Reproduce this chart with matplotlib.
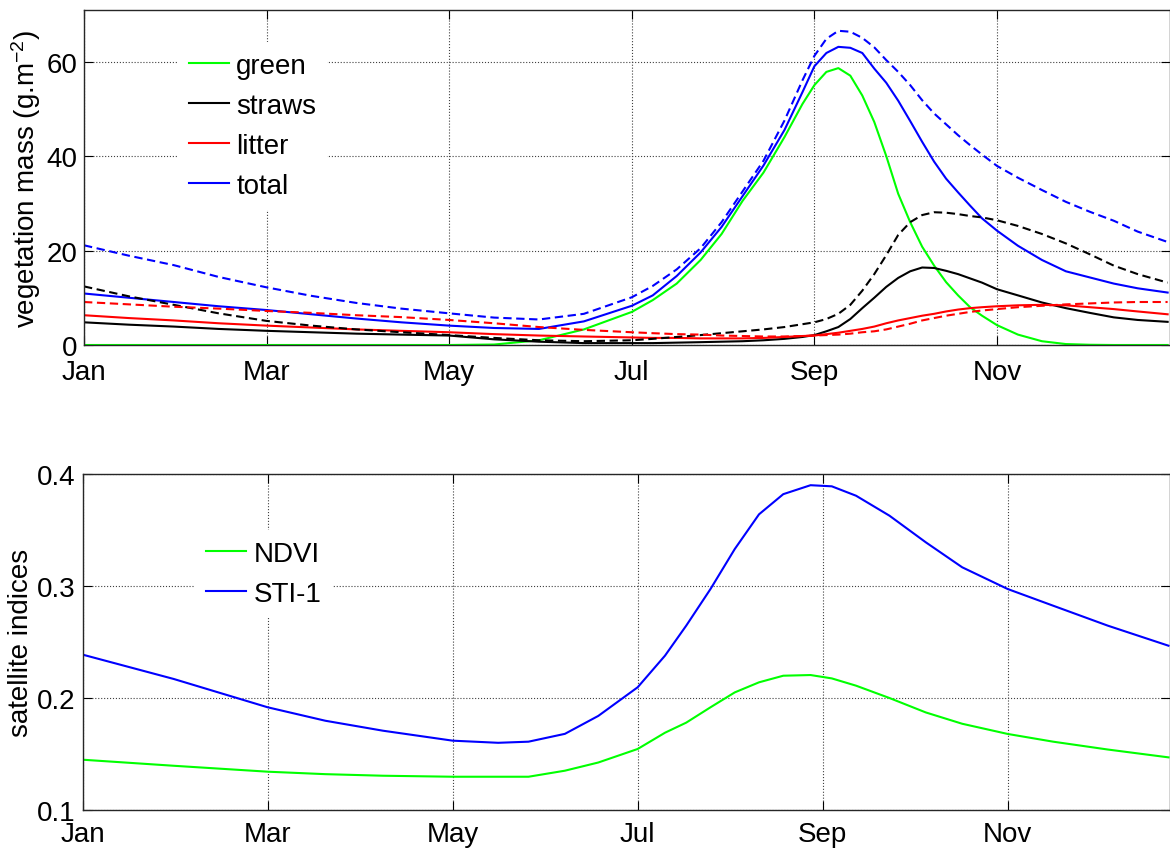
import matplotlib
matplotlib.use('Agg')
import matplotlib.pyplot as plt

plt.rcParams['font.family'] = ['Liberation Sans', 'DejaVu Sans']
plt.rcParams['mathtext.default'] = 'regular'
plt.rcParams['font.size'] = 20

# ---- top panel: vegetation mass (g/m2), x = day of year ----
days = [0, 15, 30, 45, 61, 76, 91, 106, 122, 137, 152, 167, 183, 190, 198, 206,
        213, 220, 227, 234, 240, 244, 248, 252, 256, 260, 264, 268, 272, 276,
        280, 284, 288, 292, 296, 300, 305, 312, 320, 328, 336, 344, 352, 362]

green = [0, 0, 0, 0, 0, 0, 0, 0, 0, 0.1, 1.0, 3.3, 7.0, 9.5, 13.0, 18.0,
         23.5, 30.5, 36.5, 44.0, 51.0, 55.0, 57.8, 58.6, 57.0, 52.8, 47.2, 40.0, 32.0, 26.0,
         20.8, 16.8, 13.3, 10.5, 8.0, 6.2, 4.2, 2.2, 0.8, 0.2, 0.05, 0, 0, 0]

straws = [4.8, 4.3, 3.9, 3.4, 3.0, 2.7, 2.4, 2.2, 2.0, 1.2, 0.7, 0.4, 0.4, 0.4, 0.5, 0.6,
          0.7, 0.8, 1.0, 1.3, 1.7, 2.1, 2.9, 3.8, 5.5, 7.8, 10.0, 12.3, 14.2, 15.6,
          16.4, 16.3, 15.7, 15.0, 14.1, 13.2, 11.8, 10.5, 9.0, 7.8, 6.8, 5.85, 5.3, 4.9]

straws_b = [12.4, 10.3, 8.5, 6.7, 5.1, 4.1, 3.3, 2.7, 2.1, 1.5, 1.0, 0.8, 1.0, 1.3, 1.7, 2.1,
            2.5, 2.9, 3.3, 3.8, 4.4, 4.8, 5.5, 6.6, 8.5, 11.5, 15.0, 19.0, 23.3, 26.0,
            27.5, 28.1, 28.0, 27.7, 27.3, 27.0, 26.4, 25.2, 23.5, 21.5, 19.2, 16.8, 15.0, 13.2]

litter = [6.3, 5.7, 5.2, 4.6, 4.1, 3.7, 3.3, 3.0, 2.7, 2.3, 2.0, 1.8, 1.6, 1.5, 1.5, 1.4,
          1.4, 1.4, 1.5, 1.7, 1.9, 2.0, 2.3, 2.6, 3.0, 3.4, 3.9, 4.6, 5.2, 5.7,
          6.2, 6.6, 7.1, 7.5, 7.8, 8.0, 8.2, 8.4, 8.5, 8.4, 8.0, 7.6, 7.1, 6.5]

litter_b = [9.1, 8.6, 8.1, 7.7, 7.2, 6.8, 6.3, 5.9, 5.3, 4.6, 3.8, 3.2, 2.7, 2.5, 2.3, 2.2,
            2.0, 1.9, 1.8, 1.8, 1.9, 2.0, 2.1, 2.2, 2.4, 2.7, 2.9, 3.3, 3.9, 4.5,
            5.2, 5.7, 6.2, 6.6, 7.0, 7.3, 7.6, 8.0, 8.3, 8.6, 8.8, 9.0, 9.1, 9.1]

total = [10.9, 10.0, 9.1, 8.2, 7.4, 6.5, 5.6, 4.8, 4.1, 3.6, 3.4, 5.0, 8.3, 10.5, 14.6, 19.6,
         25.0, 31.5, 38.0, 45.5, 53.5, 59.0, 61.8, 63.1, 62.9, 61.8, 58.5, 55.5, 51.7, 47.4,
         43.0, 38.8, 35.2, 32.3, 29.5, 26.8, 24.2, 21.0, 18.0, 15.6, 14.3, 13.0, 12.0, 11.1]

total_b = [21.1, 18.9, 16.9, 14.4, 12.2, 10.4, 8.9, 7.7, 6.7, 5.8, 5.4, 6.6, 10.1, 12.5, 16.0, 20.5,
           26.0, 32.5, 39.0, 47.5, 56.0, 61.2, 64.8, 66.5, 66.3, 65.0, 63.0, 60.3, 57.8, 55.0,
           51.8, 49.0, 46.7, 44.4, 42.3, 40.3, 37.9, 35.4, 32.8, 30.3, 28.2, 26.3, 24.0, 21.8]

# ---- bottom panel: satellite indices ----
days2 = [0, 30, 61, 80, 99, 122, 137, 147, 159, 170, 183, 192, 199, 207, 215, 223,
         231, 240, 247, 255, 266, 278, 290, 305, 320, 338, 358]
ndvi = [0.1449, 0.1395, 0.1342, 0.132, 0.1306, 0.1297, 0.1297, 0.1297, 0.1351, 0.1424,
        0.1545, 0.169, 0.178, 0.1917, 0.205, 0.214, 0.2199, 0.2205, 0.2175, 0.211,
        0.200, 0.1871, 0.177, 0.1679, 0.161, 0.154, 0.147]
sti = [0.2387, 0.217, 0.1917, 0.1797, 0.1708, 0.1619, 0.160, 0.161, 0.168, 0.184,
       0.2096, 0.2378, 0.2646, 0.2973, 0.333, 0.364, 0.382, 0.390, 0.389, 0.3806,
       0.3628, 0.339, 0.3167, 0.2973, 0.2824, 0.2646, 0.2467]

month_ticks = [0, 61, 122, 183, 244, 305]
month_labels = ['Jan', 'Mar', 'May', 'Jul', 'Sep', 'Nov']

W, H = 1170, 853
fig = plt.figure(figsize=(W / 100, H / 100), dpi=100)

ax1 = fig.add_axes([84 / W, 1 - 346 / H, (W - 84) / W, 335 / H])
ax2 = fig.add_axes([82.7 / W, 1 - 811 / H, (W - 82.7) / W, 336 / H])

lw = 1.5
ax1.plot(days, green, color=(0, 1, 0), lw=lw, label='green')
ax1.plot(days, straws, color='k', lw=lw, label='straws')
ax1.plot(days, litter, color='r', lw=lw, label='litter')
ax1.plot(days, total, color='b', lw=lw, label='total')
ax1.plot(days, straws_b, color='k', lw=lw, dashes=(4, 2.2))
ax1.plot(days, litter_b, color='r', lw=lw, dashes=(4, 2.2))
ax1.plot(days, total_b, color='b', lw=lw, dashes=(4, 2.2))

ax1.set_xlim(0, 1086 / 182.6 * 61)
ax1.set_ylim(0, 70.9)
ax1.set_yticks([0, 20, 40, 60])
ax1.set_ylabel('vegetation mass (g.m$^{-2}$)', labelpad=2)

ax2.plot(days2, ndvi, color=(0, 1, 0), lw=lw, label='NDVI')
ax2.plot(days2, sti, color='b', lw=lw, label='STI-1')
ax2.set_xlim(0, 1087.3 / 185 * 61)
ax2.set_ylim(0.1, 0.4)
ax2.set_yticks([0.1, 0.2, 0.3, 0.4])
ax2.set_ylabel('satellite indices', labelpad=2)

for ax in (ax1, ax2):
    ax.set_xticks(month_ticks)
    ax.set_xticklabels(month_labels)
    ax.grid(True, linestyle=':', color='0.25', linewidth=0.8)
    ax.tick_params(direction='in', length=6.5, width=0.8, top=True, right=True,
                   labelsize=20)
    ax.tick_params(axis='y', pad=5)
    for s in ax.spines.values():
        s.set_color('0.15')
        s.set_linewidth(1.0)
ax1.tick_params(axis='x', pad=10)
ax2.tick_params(axis='x', pad=8)

leg_kw = dict(loc='upper left', fontsize=20, frameon=True, fancybox=False,
              edgecolor='none', facecolor='white', framealpha=1,
              handlelength=1.45, handletextpad=0.25, borderpad=0.4,
              labelspacing=0.5, borderaxespad=0)
ax1.legend(bbox_to_anchor=((178 - 84) / 1086, (346 - 43) / 335), **leg_kw)
ax2.legend(bbox_to_anchor=((195 - 82.7) / 1087.3, (811 - 531) / 336), **leg_kw)

fig.savefig('out.png', dpi=100)
